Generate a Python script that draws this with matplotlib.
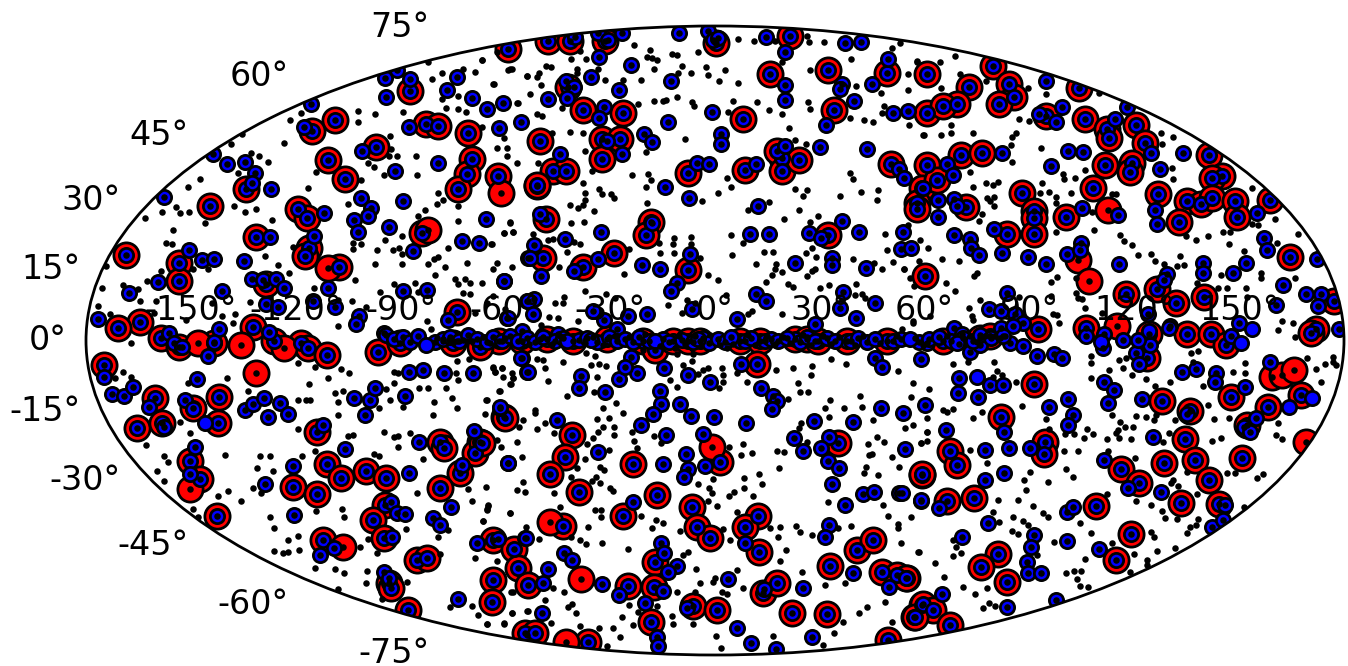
import numpy as np
import matplotlib
matplotlib.use("Agg")
import matplotlib.pyplot as plt
from matplotlib.transforms import Affine2D

# sky positions, as map-plane offsets from the map centre
# (the ellipse has semi axes of 630 and 315 of these units)

# big red sources that also have a blue + black centre
red_ringed = [(-207,292),(-305,250),(-381,221),(-404,210),(-289,217),(-277,215),(-247,208),(-340,194),(-388,181),(-371,162),
    (-243,182),(-248,167),(-257,152),(-217,165),(-178,155),(-470,152),(-506,135),(-418,132),(-409,123),(-293,108),
    (-460,104),(-407,93),(-411,85),(-377,74),(-590,86),(-537,78),(-537,60),(-450,57),(-258,29),(-576,19),(-598,13),(-463,14),
    (-555,3),(-537,-7),(-502,-3),(-442,0),(-415,-3),(-408,-8),(-389,-15),(-612,-25),(-561,-58),(-579,-88),(-554,-83),(-523,-68),
    (-497,-57),(-498,-83),(-338,-12),(-315,-3),(-262,-3),(-216,0),(-235,-7),(-399,-92),(-526,-121),(-516,-139),(-499,-176),
    (-423,-147),(-399,-154),(-389,-124),(-375,-138),(-350,-131),(-330,-138),(-275,-102),(-271,-108),(-235,-102),(-240,-113),
    (-255,-133),(-275,-148),(-211,-77),(-330,-165),(-342,-180),(-332,-198),(-393,-200),(-298,-220),(-288,-218),(-327,-243),
    (-325,-248),(-307,-270),(-222,-240),(-223,-262),(-222,-200),(-201,-209),(-197,-228),(-187,-245),(-188,-295),
    (-167,300),(-145,300),(-110,300),(1,298),(75,305),(-147,254),(-132,231),(-92,228),(-175,200),(-113,202),(-95,202),(-113,182),
    (-162,170),(-149,170),(-178,156),(-169,122),(-64,119),(-69,106),(-172,83),(-132,74),(-101,88),(-27,168),(-27,71),(30,171),
    (28,222),(55,267),(113,271),(119,231),(172,268),(212,267),(212,228),(67,183),(62,190),(67,170),(84,181),(113,106),(176,177),
    (212,176),(207,153),(202,138),(202,132),(210,65),
    (-193,0),(-168,2),(-142,0),(-108,2),(-72,0),(-60,-10),(-42,0),(-27,0),(-15,0),(25,0),(45,0),(80,2),(92,2),(103,0),(132,0),(172,0),
    (42,-24),(-210,-78),(-233,-103),(-143,-95),(-150,-117),(-165,-134),(-136,-152),(-82,-124),(5,-122),(123,-103),(-58,-155),
    (-92,-176),(-23,-167),(-18,-187),(-5,-198),(43,-176),(30,-187),(44,-212),(207,-135),(-152,-186),(-60,-222),(-61,-247),(-87,-246),
    (-64,-282),(-22,-266),(2,-270),(48,-253),(62,-243),(77,-273),(112,-274),(115,-226),(142,-210),(158,-200),(167,-232),(182,-235),
    (192,-238),(207,-265),(199,-277),(173,-300),(-190,-293),(-180,-293),(-127,-302),
    (254,254),(278,275),(294,257),(299,244),(284,237),(242,237),(228,235),(332,225),(365,253),(371,222),(393,212),(395,203),(422,216),
    (431,198),(495,186),(508,165),(498,163),(391,176),(418,178),(416,169),(246,186),(267,188),(222,161),(251,134),(307,148),(320,130),
    (320,123),(320,107),(292,107),(352,124),(379,153),(444,147),(473,140),(487,137),(498,143),(521,140),(523,124),(465,119),(556,141),
    (576,84),(412,47),(443,52),(462,38),(490,44),(620,40),(602,12),(324,12),(372,13),(435,7),(473,7),(497,7),(228,0),(265,3),(275,5),
    (433,-18),(512,-5),(597,8),(587,-55),(554,-67),(533,-85),(517,-57),(476,-71),(448,-61),(471,-99),(481,-120),(495,-140),(505,-164),
    (528,-118),(450,-123),(407,-129),(425,-143),(467,-163),(382,-166),(417,-194),(402,-220),(319,-44),(286,-77),(331,-102),(330,-114),
    (235,-111),(242,-125),(207,-134),(232,-161),(259,-158),(283,-214),(266,-227),(292,-242),(191,-238),(208,-264),(218,-270),(200,-277),(235,-285)]

# red sources with no blue on them
red_solid = [(-287,111),(-388,73),(-214,148),(-518,-3),(-475,-5),(-432,-8),(-460,-33),(-526,-149),(-373,-207),(-3,-107),(-165,-182),
    (-134,-239),(-149,-302),(394,131),(364,81),(375,60),(403,15),(558,-37),(568,-35),(580,-30),(592,-102)]

# blue sources with a black centre and no red
blue_ringed = [(-330,263),(-318,271),(-305,262),(-330,244),(-258,264),(-268,251),(-243,243),(-228,232),(-212,238),(-194,219),(-216,213),
    (-306,214),(-405,237),(-412,214),(-353,190),(-489,177),(-471,179),(-461,168),(-464,158),(-445,152),(-552,144),(-503,187),(-320,170),
    (-277,178),(-355,143),(-312,140),(-345,133),(-348,125),(-362,121),(-358,109),(-392,128),(-229,122),(-327,114),(-446,104),(-402,105),
    (-302,90),(-253,100),(-236,98),(-527,91),(-514,81),(-502,82),(-472,80),(-464,62),(-453,61),(-440,62),(-432,53),(-388,53),(-558,59),
    (-587,48),(-494,50),(-312,50),(-288,51),(-211,60),(-403,40),(-450,37),(-438,34),(-381,34),(-357,25),(-360,17),(-618,22),(-497,12),
    (-447,9),(-332,8),(-267,21),(-208,23),(-188,40),(-187,83),
    (-547,8),(-542,-3),(-534,-7),(-502,-2),(-508,-16),(-567,-67),(-612,-37),(-604,-54),(-592,-56),(-583,-47),(-519,-39),(-531,-60),
    (-471,-70),(-463,-64),(-452,-58),(-436,-63),(-428,-74),(-448,-77),(-552,-87),(-393,-85),(-371,-109),(-362,-58),(-346,-60),(-341,-48),
    (-351,-75),(-310,-56),(-306,-32),(-292,-30),(-271,-33),(-242,-33),(-215,-68),(-296,-102),(-241,-91),(-207,-123),(-306,-133),(-253,-125),
    (-521,-107),(-526,-134),(-451,-144),(-423,-126),(-422,-175),(-264,-167),(-282,-178),(-275,-185),(-324,-162),(-318,-173),(-310,-174),
    (-324,-197),(-382,-208),(-396,-215),(-332,-232),(-327,-238),(-257,-259),(-238,-203),(-217,-199),(-190,-198),(-193,-18),(-188,-32),
    (-36,308),(-7,310),(-2,301),(3,303),(51,304),(130,298),(146,299),(70,289),(-116,284),(-84,276),(-117,308),(-93,308),(-107,301),(-140,304),
    (-124,264),(-149,260),(-141,254),(-148,243),(-44,260),(-96,251),(-167,242),(-111,234),(-116,223),(-47,219),(-3,229),(6,207),(6,197),
    (-71,207),(-63,199),(-108,200),(-93,187),(-155,187),(70,256),(70,241),(127,257),(125,252),(157,257),(139,240),(111,216),(178,228),
    (193,230),(173,282),(105,194),(152,192),(184,172),(189,163),(-18,178),(-6,177),(41,177),(70,195),(-50,154),(-26,143),(43,135),(208,153),
    (-175,127),(-150,102),(-114,109),(-63,118),(35,107),(54,107),(94,108),(106,103),(127,120),(144,109),(188,109),(186,92),(196,93),
    (-181,96),(-185,83),(-174,65),(-141,70),(-117,82),(-73,76),(-55,72),(-25,87),(80,78),(117,83),(117,76),(151,73),(-211,60),(-38,58),
    (-44,50),(41,47),(51,40),(128,49),(160,38),(141,23),(125,33),(100,17),(22,22),(-23,32),(-68,27),(-87,25),(-122,30),(-111,21),(-98,12),
    (-181,42),(-187,40),(-182,27),(-207,23),(-193,10),(-157,7),
    (-194,-18),(-187,-32),(-134,-36),(-136,-48),(-110,-52),(-96,-39),(-78,-33),(-84,-17),(-90,-27),(-51,-28),(-27,-35),(-5,-42),(-55,-51),
    (-54,-64),(-35,-64),(-24,-76),(-62,-74),(-74,-85),(-1,-77),(31,-83),(46,-48),(58,-56),(62,-61),(57,-69),(26,-24),(160,-18),(167,-27),
    (206,-19),(99,-81),(138,-82),(166,-68),(188,-73),(210,-65),(79,-98),(88,-111),(114,-97),(106,-108),(113,-121),(124,-128),(190,-109),
    (117,-144),(148,-154),(159,-152),(184,-153),(206,-161),(130,-165),(114,-185),(110,-197),(-158,-80),(-117,-112),(-207,-123),(-215,-67),
    (-49,-95),(-29,-114),(-27,-129),(-31,-137),(-52,-124),(-12,-94),(-10,-126),(-82,-162),(30,-203),(-189,-198),(-151,-213),(-143,-220),
    (-167,-229),(-172,-243),(-113,-244),(-54,-203),(-51,-213),(-38,-226),(-47,-232),(13,-239),(49,-249),(88,-248),(138,-233),(174,-247),
    (-96,-255),(-70,-263),(-52,-251),(-173,-273),(-28,-268),(-58,-297),(-57,-306),(22,-288),(36,-303),(61,-309),(97,-297),
    (331,260),(348,234),(342,219),(325,227),(413,234),(401,222),(469,188),(437,188),(353,190),(368,189),(336,175),(446,172),(287,188),
    (232,177),(238,166),(223,141),(239,142),(242,135),(223,124),(239,106),(255,102),(256,93),(264,86),(279,112),(287,88),(313,84),(332,77),
    (367,98),(353,87),(366,91),(368,133),(404,126),(441,131),(443,117),(543,128),(550,103),(553,91),(405,77),(489,78),(489,68),(519,68),
    (532,78),(453,67),(450,61),(603,82),(569,56),(592,47),(607,47),(604,35),(562,36),(292,48),(274,32),(286,30),(300,27),(308,18),(239,13),
    (247,7),(286,13),(298,15),(456,15),(525,18),(625,12),(434,27),(390,7),(372,5),
    (244,-38),(243,-53),(263,-57),(275,-45),(288,-45),(231,-90),(289,-92),(294,-108),(270,-110),(289,-133),(270,-140),(316,-108),(335,-67),
    (354,-59),(359,-75),(354,-85),(323,-16),(340,-14),(348,-18),(255,-12),(265,-5),(295,-3),(308,-6),(212,-3),(390,-42),(400,-50),(394,-63),
    (428,-59),(468,-32),(482,-29),(502,-33),(501,-42),(531,-47),(556,-22),(422,-13),(425,-24),(436,-5),(424,1),(409,1),(389,-8),(455,13),
    (517,5),(439,-97),(473,-74),(542,-78),(530,-87),(536,-92),(390,-120),(414,-148),(447,-152),(511,-165),(498,-187),(509,-180),(353,-172),
    (359,-167),(273,-183),(247,-197),(320,-195),(317,-207),(312,-222),(313,-233),(327,-233),(353,-201),(385,-209),(292,-267),(227,-254),
    (341,-260),(224,-168),(206,-160),(187,-153)]

# the crowded blue band along the equator
blue_band = [(-330,6),(-322,2),(-312,4),(-305,-2),(-297,5),(-280,-2),(-272,2),(-265,4),(-256,-1),(-247,6),(-238,2),(-228,-2),(-222,4),(-213,-1),
    (-205,5),(-197,0),(-188,3),(-180,-2),(-172,4),(-160,0),(-152,3),(-136,1),(-128,3),(-118,-2),(-106,4),(-98,-1),(-90,2),(-82,-2),(-76,4),
    (-66,0),(-52,2),(-46,-2),(-33,1),(-22,-2),(-12,3),(-6,-3),(3,2),(10,-2),(16,4),(30,0),(36,3),(50,-1),(56,2),(63,0),(72,3),(85,-2),(92,4),
    (100,0),(112,3),(120,-1),(136,0),(143,3),(152,-2),(160,2),(178,-1),(186,2),(204,-2),(214,2),(224,4),(236,0),(248,3),(258,-1),(265,6),(276,3),(288,5)]

# blue sources with no black centre
blue_solid = [(-289,-5),(-523,-69),(-511,-83),(-124,1),(-60,0),(-17,2),(195,2),(-148,0),(242,-3),(262,-37),(387,-2),(527,-3),(538,12),(598,-58),(575,-67),(435,10)]

# faint sources, black dots only
black_band = [(-272,0),(-266,1),(-262,-1),(-258,0),(-252,1),(-248,0),(-243,-1),(270,5),(275,5),(280,5),(285,3),(290,5),(-30,-4),(-14,-6),(12,-8),(-72,-10),(-40,-8),
    (-278,3),(-232,4),(-225,-3),(-210,3),(-186,-4),(-175,2),(-163,-4),(-155,5),(-130,-3),(-122,4),(-112,-5),(-100,5),(-86,4),(-70,7),(-55,-6),(-36,5),(-20,5),(-5,6),(5,-5),
    (18,-4),(33,6),(40,-5),(52,5),(60,-4),(68,4),(75,-3),(88,6),(96,-5),(108,5),(116,-4),(124,4),(140,-5),(148,5),(165,-3),(182,5),(200,3),(208,-5),(232,5),(244,-4),(255,5),(262,-2)]
black_north = [(-287,279),(-233,281),(-273,268),(-240,269),(-252,272),(-283,262),(-221,257),(-188,265),(-205,272),(-257,245),(-273,242),(-197,238),(-269,233),
    (-257,232),(-249,229),(-312,229),(-358,230),(-341,227),(-358,219),(-426,221),(-415,228),(-211,203),(-233,214),(-432,198),(-326,205),(-474,207),(-485,197),
    (-324,192),(-218,193),(-208,193),(-326,185),(-318,185),(-299,185),(-457,185),(-465,188),(-448,179),(-347,178),(-341,174),(-208,185),(-198,178),(-400,169),
    (-331,166),(-298,166),(-516,162),(-478,168),(-408,153),(-528,154),(-355,161),(-277,148),(-272,141),(-278,137),(-540,134),(-554,129),(-536,128),(-527,129),
    (-482,135),(-471,129),(-460,132),(-368,137),(-257,135),(-571,123),(-511,118),(-444,121),(-290,131),(-297,125),(-257,120),(-205,119),(-211,108),(-202,109),
    (-543,111),(-331,101),(-313,105),(-363,98),(-355,97),(-363,92),(-339,91),(-323,91),(-317,93),(-267,93),(-223,97),(-277,84),(-281,82),(-550,98),(-544,97),
    (-423,94),(-451,85),(-313,87),(-341,77),(-287,77),(-270,74),(-313,77),(-248,78),(-218,78),(-222,72),(-203,74),(-438,76),(-427,68),(-280,66),(-361,61),
    (-260,62),(-250,62),(-257,57),(-245,58),(-233,58),(-300,58),(-322,57),(-555,70),(-508,72),(-523,72),(-610,75),(-614,53),(-593,56),(-569,60),(-578,52),
    (-560,40),(-576,40),(-618,35),(-402,53),(-222,45),(-252,48),(-245,47),(-336,49),(-297,49),(-228,38),(-378,41),(-364,40),(-350,34),(-466,39),(-504,38),
    (-288,20),(-481,27),(-494,25),(-240,28),(-210,32),(-530,21),(-562,28),(-483,18),(-378,15),(-606,27),
    (-81,296),(-65,291),(-68,284),(-63,283),(-58,281),(-43,287),(-38,286),(-17,289),(-33,275),(-61,272),(-37,268),(-24,268),(-9,274),(-7,266),(10,271),(4,260),
    (23,258),(23,302),(39,300),(60,300),(94,299),(109,299),(92,305),(136,282),(177,293),(185,298),(202,280),(193,267),(95,271),(67,279),(141,255),(166,248),
    (193,251),(93,239),(95,232),(54,231),(42,239),(18,240),(13,229),(67,227),(135,223),(149,221),(158,219),(169,235),(167,228),(208,206),(74,213),(91,197),
    (80,201),(-30,202),(-23,239),(-21,235),(-38,244),(-49,241),(-52,240),(-61,240),(-77,237),(-74,261),(-92,261),(-110,261),(-117,272),(-138,272),(-138,268),
    (-129,282),(-135,290),(-144,282),(-169,275),(-164,274),(-203,272),(-207,271),(-188,265),(-176,268),(-178,264),(-174,256),(-185,247),(-222,257),(-233,281),
    (-218,289),(-198,238),(-153,233),(-178,227),(-173,225),(-132,208),(-145,209),(-163,208),(-177,178),(-69,189),(-130,190),(-123,170),(-83,166),(-67,167),
    (-64,161),(-69,154),(-132,158),(-130,148),(-116,152),(-113,147),(-104,147),(-101,143),(-130,141),(-145,136),(-137,133),(-132,136),(-121,130),(-68,138),
    (-13,140),(3,148),(16,154),(12,163),(80,152),(92,151),(88,145),(125,145),(135,168),(138,162),(146,149),(163,151),(162,141),(54,139),(33,131),(84,131),
    (69,122),(95,119),(103,125),(170,107),(193,116),(172,91),(205,101),(-144,118),(-131,119),(-205,118),(-211,108),(-202,109),(-182,107),(-167,101),(-162,102),
    (-224,97),(-141,99),(-135,97),(-148,89),(-156,74),(-91,67),(-86,92),(-56,98),(-41,103),(-42,97),(-55,88),(-41,88),(-24,104),(-24,97),(-15,83),(16,106),
    (28,98),(17,86),(49,89),(58,89),(41,77),(61,77),(60,72),(67,69),(57,66),(51,59),(73,57),(78,54),(92,65),(97,70),(100,72),(91,88),(97,93),(101,84),(138,82),
    (159,78),(167,72),(178,79),(189,72),(195,63),(199,55),(-7,66),(3,61),(105,53),(114,56),(141,57),(140,46),(147,47),(150,43),(187,12),(11,46),(37,30),(33,27),
    (67,27),(-33,28),(-47,36),(-28,41),(-20,38),(-151,44),(-152,38),(-160,38),(-166,24),(-157,23),(-130,50),(-109,47),(-100,43),(-137,20),(-174,16),(198,20),
    (225,279),(240,285),(202,279),(245,267),(226,253),(271,260),(313,253),(332,247),(385,248),(304,222),(314,220),(301,208),(297,204),(296,196),(297,179),(326,193),
    (194,216),(236,216),(236,208),(209,206),(226,206),(258,208),(447,208),(448,197),(459,204),(255,169),(258,154),(271,158),(278,156),(283,159),(272,143),(279,144),
    (275,140),(279,135),(267,127),(264,120),(328,158),(326,148),(335,149),(342,144),(357,148),(349,167),(350,162),(361,163),(371,171),(342,138),(342,109),(380,111),
    (378,129),(398,147),(402,147),(458,173),(459,162),(482,101),(494,105),(515,97),(509,109),(516,109),(538,153),(561,122),(544,116),(538,117),(584,107),(563,98),
    (530,90),(547,68),(547,63),(581,63),(472,105),(406,106),(410,100),(418,96),(424,86),(437,87),(441,80),(450,77),(466,85),(463,75),(470,76),(483,58),(507,66),
    (513,53),(532,53),(533,44),(504,53),(362,63),(337,59),(343,64),(362,48),(364,43),(368,42),(371,33),(388,28),(337,45),(339,27),(343,26),(345,18),(254,33),(257,25),
    (258,21),(265,41),(304,44),(227,82),(244,80),(262,68),(259,65),(189,72),(213,93),(204,80),(231,58),(240,50),(198,18),(215,25),(568,20),(579,18),(564,11),(581,4)]
black_south = [(-585,-3),(-593,-32),(-601,-38),(-585,-37),(-528,-43),(-489,-38),(-468,-51),(-570,-105),(-536,-82),(-526,-93),(-552,-116),(-548,-122),(-491,-115),(-559,-131),
    (-552,-141),(-498,-156),(-488,-151),(-475,-161),(-523,-169),(-518,-177),(-456,-116),(-446,-116),(-459,-128),(-443,-131),(-463,-148),(-455,-153),(-446,-177),(-442,-188),
    (-428,-200),(-418,-196),(-417,-210),(-442,-211),(-433,-213),(-428,-212),(-400,-171),(-374,-169),(-372,-177),(-356,-207),(-348,-199),(-339,-213),(-401,-228),(-381,-229),
    (-372,-233),(-349,-231),(-350,-243),(-308,-242),(-378,-249),(-333,-259),(-414,-116),(-418,-89),(-401,-111),(-368,-96),(-363,-95),(-332,-92),(-322,-97),(-318,-96),(-305,-93),
    (-318,-107),(-342,-114),(-337,-116),(-292,-119),(-298,-153),(-247,-149),(-243,-161),(-229,-147),(-227,-166),(-228,-170),(-205,-173),(-232,-181),(-192,-142),(-198,-150),
    (-190,-152),(-193,-117),(-214,-107),(-198,-102),(-218,-100),(-192,-80),(-196,-87),(-229,-60),(-258,-68),(-263,-58),(-281,-62),(-282,-75),(-230,-74),(-296,-48),(-287,-48),
    (-269,-48),(-258,-21),(-246,-19),(-259,-33),(-213,-28),(-202,-38),(-205,-44),(-216,-51),(-222,-27),(-220,-32),(-257,-40),(-317,-33),(-322,-32),(-322,-43),(-326,-60),(-330,-49),
    (-337,-68),(-312,-67),(-378,-75),(-378,-62),(-373,-51),(-381,-53),(-418,-60),(-410,-60),(-406,-60),(-407,-44),(-388,-38),(-375,-29),(-367,-33),(-401,-27),(-418,-23),(-284,12),
    (-240,-218),(-218,-221),(-202,-252),(-237,-275),(-243,-266),(-265,-267),(-228,-284),(-211,-283),(-203,-273),(-188,-271),(-277,-197),(-267,-190),(-309,-189),(-275,-214),
    (-222,-28),(-213,-28),(-220,-32),(-212,-37),(-203,-33),(-202,-38),(-204,-44),(-215,-51),(-167,-41),(-170,-28),(-178,-19),(-172,-20),(-152,-22),(-129,-13),(-120,-16),(-116,-24),
    (-109,-26),(-124,-25),(-118,-37),(-121,-52),(-148,-56),(-99,-63),(-112,-68),(-92,-73),(-106,-78),(-118,-79),(-112,-87),(-101,-87),(-101,-95),(-117,-92),(-122,-98),(-128,-104),
    (-106,-110),(-130,-119),(-115,-127),(-111,-130),(-119,-137),(-123,-141),(-115,-143),(-105,-148),(-102,-151),(-120,-170),(-114,-170),(-114,-177),(-74,-176),(-59,-180),(-52,-183),
    (-63,-188),(-87,-209),(-135,-200),(-129,-204),(-113,-203),(-127,-187),(-144,-197),(-176,-199),(-155,-167),(-227,-165),(-228,-169),(-205,-173),(-232,-181),(-189,-187),(-161,-153),
    (-144,-137),(-178,-89),(-180,-70),(-180,-73),(-228,-60),(-161,-93),(-170,-83),(-138,-128),(-78,-108),(-81,-101),(-83,-92),(-61,-96),(-54,-103),(-17,-144),(-2,-139),(-6,-148),
    (-3,-153),(14,-156),(19,-152),(29,-138),(29,-148),(44,-134),(47,-144),(38,-156),(-7,-161),(2,-166),(22,-172),(-35,-191),(15,-200),(8,-189),(55,-188),(65,-187),(63,-197),(71,-210),
    (65,-221),(81,-186),(85,-192),(97,-195),(123,-188),(136,-186),(113,-162),(168,-165),(173,-176),(196,-177),(183,-184),(183,-188),(186,-203),(204,-212),(151,-127),(149,-133),
    (163,-135),(184,-127),(177,-117),(157,-114),(154,-115),(153,-104),(162,-97),(169,-102),(206,-103),(212,-92),(198,-85),(190,-88),(158,-80),(147,-67),(129,-68),(115,-60),(110,-68),
    (114,-77),(145,-56),(198,-43),(196,-57),(183,-31),(131,-24),(116,-19),(97,-26),(96,-35),(78,-28),(61,-30),(32,-42),(83,-43),(85,-52),(93,-52),(73,-59),(86,-83),(84,-88),(92,-102),
    (62,-111),(69,-112),(64,-128),(28,-104),(26,-115),(37,-113),(14,-107),(-45,-40),(-38,-47),(-23,-21),(-32,-25),(-17,-34),(-12,-30),(-7,-28),(7,-28),(8,-35),(8,-42),(4,-48),(22,-33),
    (-38,-14),(-22,-14),(-27,-212),(-32,-215),(-19,-229),(-38,-252),(-15,-243),(0,-238),(-2,-242),(7,-252),(12,-254),(22,-230),(28,-248),(-20,-252),(-58,-266),(-86,-265),(-77,-272),
    (-93,-277),(-82,-285),(-102,-288),(-116,-288),(-135,-286),(-139,-273),(-147,-267),(-143,-264),(-164,-283),(-187,-271),(-203,-273),(-211,-284),(-228,-284),(-170,-260),(-204,-252),
    (-151,-252),(-162,-248),(-43,-276),(-42,-284),(-22,-284),(-95,-297),(-108,-306),(1,-296),(6,-308),(58,-296),(87,-232),(110,-245),(130,-243),(144,-273),(152,-267),(170,-262),
    (119,-293),(177,-282),(128,-282),(108,-305),
    (238,-24),(279,-22),(253,-22),(214,-49),(282,-31),(287,-35),(278,-37),(301,-42),(267,-72),(228,-70),(232,-72),(238,-69),(212,-78),(258,-78),(212,-92),(206,-103),(212,-101),(255,-110),
    (272,-123),(307,-66),(332,-79),(335,-89),(351,-94),(360,-94),(370,-98),(373,-89),(379,-94),(350,-111),(364,-111),(352,-129),(359,-137),(334,-142),(315,-132),(309,-140),(311,-150),
    (283,-160),(303,-160),(318,-166),(328,-173),(333,-177),(298,-177),(308,-181),(313,-185),(297,-191),(303,-194),(278,-172),(284,-182),(203,-212),(220,-223),(238,-200),(241,-207),
    (246,-213),(238,-216),(229,-237),(248,-247),(260,-254),(272,-248),(268,-268),(274,-263),(280,-266),(323,-215),(340,-202),(352,-233),(360,-231),(367,-231),(363,-239),(366,-246),
    (374,-247),(371,-219),(365,-183),(376,-193),(393,-154),(377,-38),(377,-16),(377,-23),(395,-30),(405,-20),(412,-18),(409,-28),(418,-35),(432,-39),(441,-46),(456,-42),(477,-13),(484,-11),
    (479,-22),(489,-46),(519,-32),(531,-23),(531,-33),(593,-18),(602,-29),(611,-24),(619,-17),(619,-22),(622,-25),(607,-42),(494,-65),(500,-79),(515,-78),(498,-101),(507,-98),(564,-83),
    (562,-95),(568,-99),(440,-80),(442,-75),(461,-80),(432,-77),(422,-76),(455,-93),(398,-75),(406,-82),(411,-87),(419,-87),(404,-90),(402,-93),(405,-98),(417,-99),(393,-99),(394,-111),
    (449,-102),(421,-118),(513,-133),(521,-133),(543,-138),(549,-134),(473,-132),(459,-140),(457,-143),(464,-146),(483,-154),(422,-161),(437,-165),(448,-171),(451,-178),(463,-179),(476,-187),
    (482,-185),(484,-179),(473,-193),(437,-192),(440,-197),(443,-211),(461,-208),(420,-214),(433,-220),(433,-225),(416,-232),(398,-203),(530,-167)]

plt.rcParams['font.size'] = 24

fig = plt.figure(figsize=(13.48, 6.66), dpi=100)
ax = fig.add_axes([85/1348, 11/666, 1260/1348, 629/666], projection='mollweide')
toSky = ax.transProjection.inverted()


def skyCoords(pts):
    # map plane -> lon/lat in radians, through the axes' own inverse projection
    arr = np.array(pts, dtype=float)
    plane = np.column_stack((arr[:, 0] / 630 * 2 * np.sqrt(2), arr[:, 1] / 315 * np.sqrt(2)))
    sky = toSky.transform(plane)
    return sky[:, 0], sky[:, 1]


redX, redY = skyCoords(red_ringed + red_solid)
blueX, blueY = skyCoords(red_ringed + blue_ringed + blue_band + blue_solid)
dotX, dotY = skyCoords(red_ringed + red_solid + blue_ringed + blue_band + black_band + black_north + black_south)

ax.scatter(redX, redY, s=330, c='red', edgecolors='black', linewidths=2)
ax.scatter(blueX, blueY, s=105, c='blue', edgecolors='black', linewidths=2)
ax.scatter(dotX, dotY, s=22, c='black', linewidths=0)

ax.grid(False)
for spine in ax.spines.values():
    spine.set_linewidth(2)

# labels sit further off the map than the projection's default offsets
fig.canvas.draw()
for label in ax.get_yticklabels():
    label.set_transform(label.get_transform() + Affine2D().translate(-11, 0))
for label in ax.get_xticklabels():
    label.set_transform(label.get_transform() + Affine2D().translate(0, 9))

fig.savefig('out.png', dpi=100)
